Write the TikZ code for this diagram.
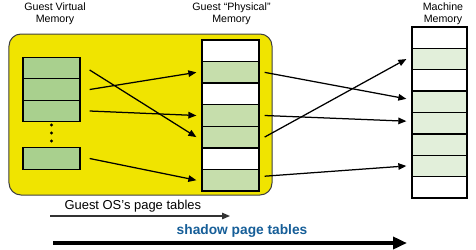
\documentclass[tikz,border=0pt]{standalone}
\usepackage{fontspec}
\setmainfont{Liberation Sans}
\usetikzlibrary{positioning,arrows.meta,fit}

\definecolor{guestyellow}{RGB}{240,228,0}
\definecolor{vgreen}{RGB}{169,208,142}
\definecolor{pgreen}{RGB}{198,222,172}
\definecolor{mgreen}{RGB}{226,239,218}
\definecolor{shadowblue}{RGB}{22,94,152}

\begin{document}
\begin{tikzpicture}[x=1bp, y=-1bp,
  font=\fontsize{10.7}{12}\selectfont,
  guestbox/.style={draw=black!75, line width=1bp, fill=guestyellow, rounded corners=12bp, minimum width=263bp, minimum height=161bp, inner sep=0pt},
  cell/.style={draw, line width=1.3bp, minimum width=57bp, minimum height=21.55bp, inner sep=0pt},
  vpage/.style={cell, fill=vgreen},
  ppage/.style={cell, fill=pgreen},
  pfree/.style={cell, fill=white},
  mpage/.style={cell, fill=mgreen, minimum width=55bp, minimum height=21.4bp},
  mfree/.style={cell, fill=white, minimum width=55bp, minimum height=21.4bp},
  title/.style={align=center, inner sep=0pt},
  map/.style={->, line width=1.25bp},
  >={Triangle[length=8bp,width=6.5bp]}]
\useasboundingbox (0,0) rectangle (476,249);
\node[guestbox] (guest) at (140.5,114.5) {};
% memory columns
\foreach \i/\y in {1/68,2/89.5,3/111,4/158.5}
  \node[vpage] (gv\i) at (51.5,\y) {};
\foreach \d in {125,133,141}
  \fill (51.5,\d) circle (1.6bp);
\foreach \i/\s in {1/pfree,2/ppage,3/pfree,4/ppage,5/ppage,6/pfree,7/ppage}
  \node[\s] (gp\i) at (230.5,{40+21.57*(\i-0.5)}) {};
\foreach \i/\s in {1/mfree,2/mpage,3/mfree,4/mpage,5/mpage,6/mpage,7/mpage,8/mfree}
  \node[\s] (mm\i) at (439.5,{27+21.375*(\i-0.5)}) {};
% titles
\node[title] (tv) at (55,14) {Guest Virtual\\Memory};
\node[title] (tp) at (231.5,14) {Guest “Physical”\\Memory};
\node[title] (tm) at (443,14) {Machine\\Memory};
% guest page table mappings
\draw[map] ([xshift=9bp,yshift=-2bp]gv1.east) -- ([xshift=-5bp]gp5.west);
\draw[map] ([xshift=9bp]gv2.east) -- ([xshift=-5bp]gp2.west);
\draw[map] ([xshift=9bp]gv3.east) -- ([xshift=-5bp]gp4.west);
\draw[map] ([xshift=9bp]gv4.east) -- ([xshift=-5bp]gp7.west);
% physical to machine
\draw[map] ([xshift=5bp]gp2.east) -- ([xshift=-5bp,yshift=3bp]mm4.west);
\draw[map] ([xshift=5bp]gp4.east) -- ([xshift=-5bp,yshift=2bp]mm5.west);
\draw[map] ([xshift=5bp]gp5.east) -- ([xshift=-5bp]mm2.west);
\draw[map] ([xshift=5bp,yshift=4bp]gp7.east) -- ([xshift=-5bp]mm7.west);
% page table arrows
\coordinate (os0) at (50,216);
\coordinate (os1) at (230,216);
\draw[->, line width=1.3bp, draw=black!80] (os0) -- (os1)
  node[pos=0.46, above, inner sep=2.7bp, font=\fontsize{13}{15}\selectfont] (ostext) {Guest OS’s page tables};
\coordinate (sh0) at (53,243);
\coordinate (sh1) at (407,243);
\draw[-{Triangle[length=14bp,width=12bp]}, line width=4bp] (sh0) -- (sh1)
  node[pos=0.534, above, inner sep=3.3bp, font=\fontsize{13.8}{15}\selectfont\bfseries, text=shadowblue] (shtext) {shadow page tables};
\end{tikzpicture}
\end{document}
